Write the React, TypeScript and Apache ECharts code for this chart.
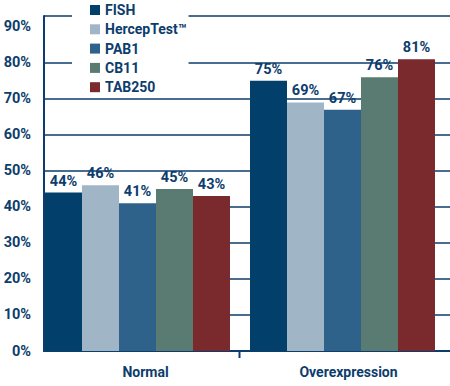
import React, { useEffect, useRef } from "react";
import * as echarts from "echarts";

const categories = ["Normal", "Overexpression"];
const seriesNames = ["FISH", "HercepTest™", "PAB1", "CB11", "TAB250"];
const fish = [44, 75];
const hercep = [46, 69];
const pab1 = [41, 67];
const cb11 = [45, 76];
const tab250 = [43, 81];
const seriesValues = [fish, hercep, pab1, cb11, tab250];
const colors = ["#023f6a", "#a0b5c6", "#2f628b", "#5a7b71", "#7a2a2c"];
const yTicks = [0, 10, 20, 30, 40, 50, 60, 70, 80, 90];

const NAVY = "#0d3d6c";
const FONT = "Roboto, 'Noto Sans', sans-serif";

export default function App() {
  const ref = useRef<HTMLDivElement>(null);
  useEffect(() => {
    if (!ref.current) return;
    const chart = echarts.init(ref.current, null, { renderer: "svg" });
    const yMax = 93;
    // split line colours: hide the 90% line, keep the top frame line
    const splitColors = yTicks.map((t) => (t === 90 ? "rgba(0,0,0,0)" : NAVY));
    splitColors.push(NAVY);
    chart.setOption({
      animation: false,
      grid: [
        { left: 44, right: 0, top: 16, bottom: 35 },
        { left: 35, right: 5, top: 16, bottom: 35 },
      ],
      legend: {
        orient: "vertical",
        left: 72,
        top: 0,
        padding: [2, 2, 2, 18],
        backgroundColor: "#ffffff",
        itemWidth: 10,
        itemHeight: 10,
        itemGap: 3.3,
        icon: "rect",
        data: seriesNames,
        textStyle: {
          fontFamily: FONT,
          fontSize: 14,
          fontWeight: "bold",
          color: NAVY,
          lineHeight: 16,
        },
      },
      xAxis: [
        {
          type: "category",
          gridIndex: 0,
          data: categories,
          axisLine: { show: true, lineStyle: { color: NAVY, width: 2 } },
          axisTick: { show: false },
          axisLabel: {
            margin: 14,
            fontFamily: FONT,
            fontSize: 14,
            fontWeight: "bold",
            color: NAVY,
          },
        },
        {
          type: "category",
          gridIndex: 1,
          data: categories,
          show: false,
        },
      ],
      yAxis: [
        {
          type: "value",
          gridIndex: 0,
          min: 0,
          max: yMax,
          interval: 10,
          axisLine: { show: true, lineStyle: { color: NAVY, width: 2 } },
          axisTick: { show: false },
          axisLabel: {
            margin: 13,
            fontFamily: FONT,
            fontSize: 14.5,
            fontWeight: "bold",
            color: NAVY,
            formatter: (v: number) => (v % 10 === 0 ? v + "%" : ""),
          },
          splitLine: {
            show: true,
            lineStyle: { color: splitColors, width: 1.5 },
          },
        },
        {
          type: "value",
          gridIndex: 1,
          min: 0,
          max: yMax,
          show: false,
          splitLine: { show: false },
        },
      ],
      graphic: [
        {
          type: "line",
          shape: { x1: 239.5, y1: 352, x2: 239.5, y2: 358 },
          style: { stroke: NAVY, lineWidth: 2 },
        },
      ],
      series: seriesNames.map((name, i) => ({
        name,
        type: "bar",
        xAxisIndex: 1,
        yAxisIndex: 1,
        data: seriesValues[i],
        barGap: "0%",
        barCategoryGap: "9.76%",
        itemStyle: { color: colors[i] },
        label: {
          show: true,
          position: "top",
          distance: 4,
          formatter: "{c}%",
          fontFamily: FONT,
          fontSize: 14.5,
          fontWeight: "bold",
          color: NAVY,
        },
      })),
    });
    return () => chart.dispose();
  }, []);
  return (
    <div
      ref={ref}
      style={{ position: "absolute", left: 0, top: 0, width: 450, height: 386 }}
    />
  );
}
